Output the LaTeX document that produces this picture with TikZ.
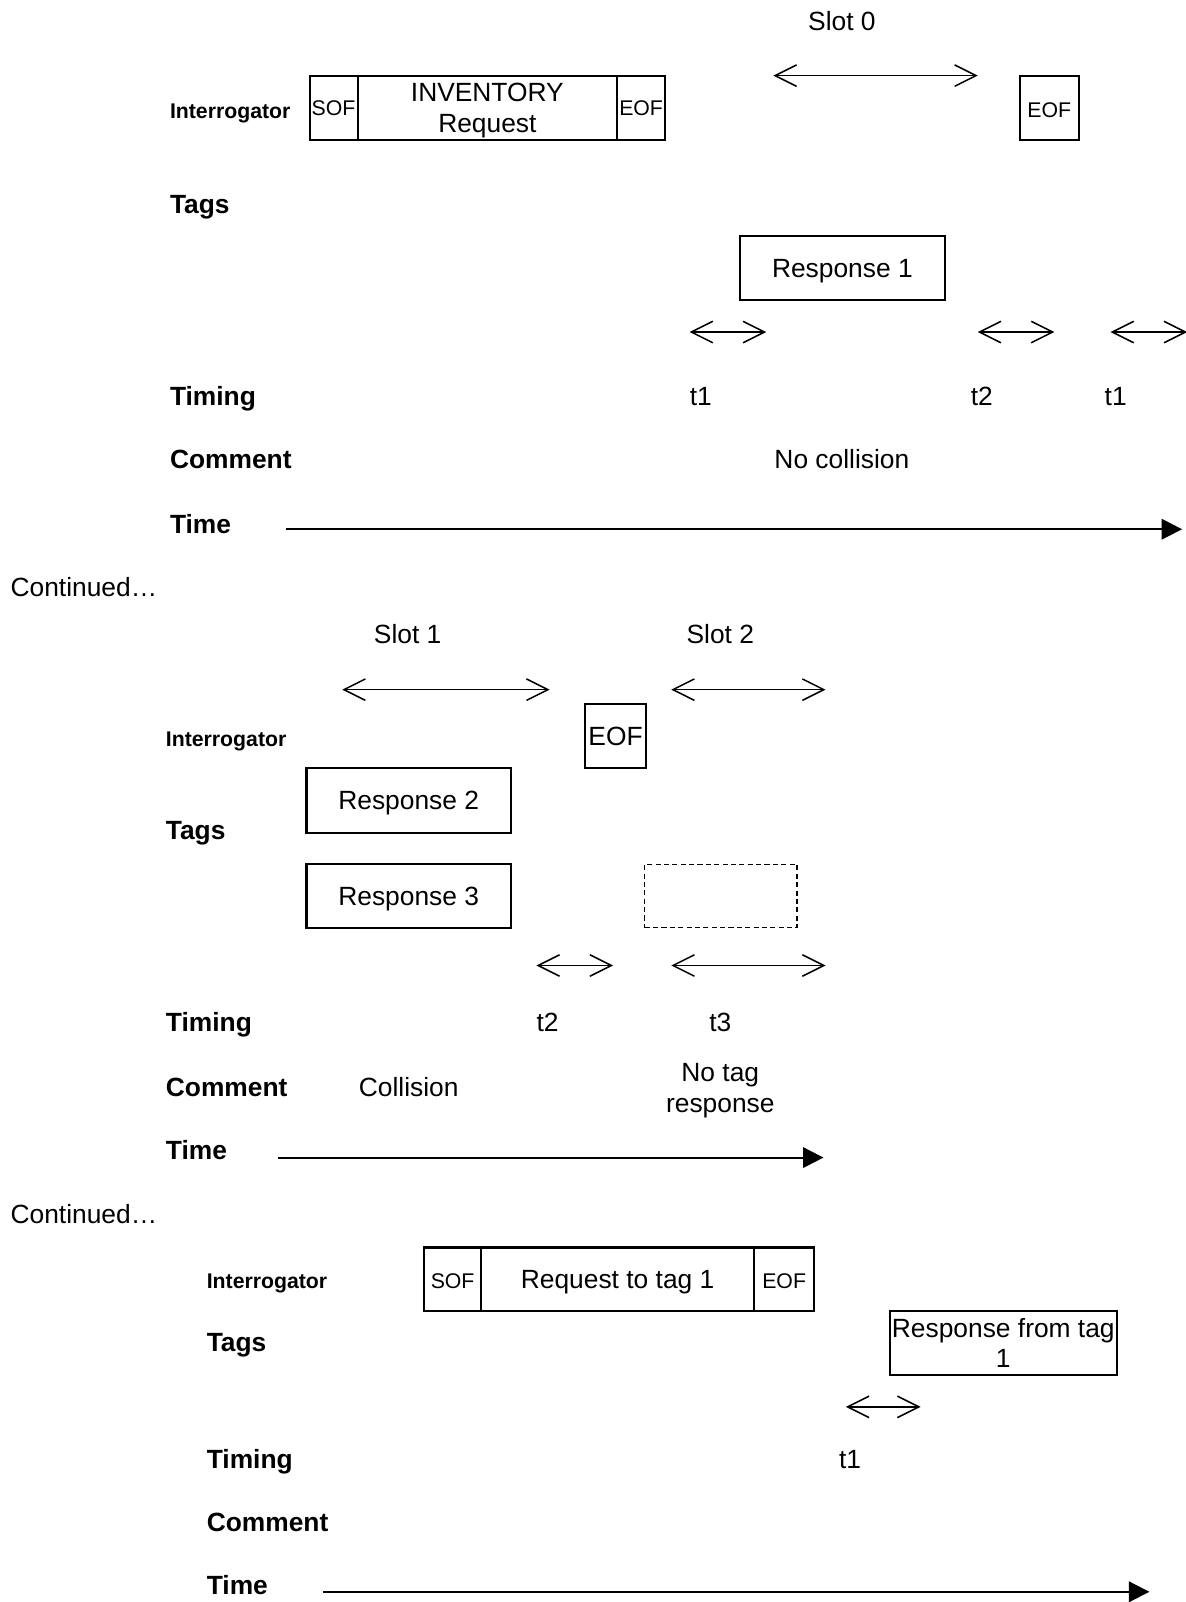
\documentclass[tikz,border=0pt]{standalone}
\usepackage{fontspec}
\setmainfont{Liberation Sans}
\usetikzlibrary{arrows.meta}
\begin{document}
\begin{tikzpicture}[x=0.5pt,y=-0.5pt,
  rowlabel/.style={font=\bfseries\fontsize{12.9}{15}\selectfont, anchor=base west, inner sep=0pt},
  rowlabelsmall/.style={font=\bfseries\fontsize{10.4}{12}\selectfont, anchor=base west, inner sep=0pt},
  note/.style={font=\fontsize{12.9}{15.2}\selectfont, anchor=base, inner sep=0pt},
  notebox/.style={font=\fontsize{12.9}{15.5}\selectfont, align=center, inner sep=0pt},
  % boxed fields: capitals centred vertically in the box
  cell/.style={draw, line width=1pt, inner sep=0pt, font=\fontsize{12.9}{15}\selectfont,
    text height=9.24pt, text depth=0pt},
  multicell/.style={draw, line width=1pt, inner sep=0pt, align=center, font=\fontsize{12.9}{15}\selectfont},
  smallcell/.style={cell, font=\fontsize{10.4}{12}\selectfont, text height=7.45pt},
  emptycell/.style={draw, line width=0.75pt, dash pattern=on 2.5pt off 1.6pt, inner sep=0pt},
  span/.style={line width=0.75pt, {Straight Barb[length=10.5pt,width=10.5pt]}-{Straight Barb[length=10.5pt,width=10.5pt]}},
  timeline/.style={line width=1pt, -{Triangle[length=10pt,width=10pt]}},
]
\fill[white] (0,0) rectangle (1160,1568);
\useasboundingbox (0,0) rectangle (1160,1568);

% ---------------- Slot 0 ----------------
\node[note] (slot0) at (824,30) {Slot 0};
\coordinate (s0a) at (757,74); \coordinate (s0b) at (957,74);
\draw[span] (s0a) -- (s0b);

\node[rowlabelsmall] (intA) at (166,115.5) {Interrogator};
\node[smallcell, minimum width=23.5pt, minimum height=31.5pt] (sofA) at (326.5,105.5) {SOF};
\node[multicell, minimum width=127pt, minimum height=31.5pt] (invA) at (477,105.5) {INVENTORY\\Re\smash{q}uest};
\node[smallcell, minimum width=23.5pt, minimum height=31.5pt] (eofA) at (627.5,105.5) {EOF};
\node[smallcell, text height=9.45pt, minimum width=29pt, minimum height=31.5pt] (eofB) at (1027,105.5) {EOF};

\node[rowlabel] (tagsA) at (166,209) {Tags};
\node[cell, minimum width=100.5pt, minimum height=31.5pt] (resp1) at (824.5,262.5) {Response 1};

\coordinate (t1a) at (675,325); \coordinate (t1b) at (750,325);
\coordinate (t2a) at (957,325); \coordinate (t2b) at (1032,325);
\coordinate (t3a) at (1087,325); \coordinate (t3b) at (1162,325);
\draw[span] (t1a) -- (t1b);
\draw[span] (t2a) -- (t2b);
\draw[span] (t3a) -- (t3b);

\node[rowlabel] (timingA) at (166,397) {Timing};
\node[note] (tA1) at (686,397) {t1};
\node[note] (tA2) at (961,397) {t2};
\node[note] (tA3) at (1092,397) {t1};

\node[rowlabel] (commentA) at (166,459) {Comment};
\node[note] (nocoll) at (824,459) {No collision};

\node[rowlabel] (timeA) at (166,522) {Time};
\coordinate (timeAs) at (280,518); \coordinate (timeAe) at (1157,518);
\draw[timeline] (timeAs) -- (timeAe);

\node[font=\fontsize{12.9}{15}\selectfont, anchor=base west, inner sep=0pt] (contA) at (10,584) {Continued…};

% ---------------- Slots 1 and 2 ----------------
\node[note] (slot1) at (399,630) {Slot 1};
\node[note] (slot2) at (705,630) {Slot 2};
\coordinate (s1a) at (335,675); \coordinate (s1b) at (538,675);
\coordinate (s2a) at (657,675); \coordinate (s2b) at (808,675);
\draw[span] (s1a) -- (s1b);
\draw[span] (s2a) -- (s2b);

\node[rowlabelsmall] (intB) at (162,730.5) {Interrogator};
\node[cell, minimum width=29.5pt, minimum height=31.5pt] (eofC) at (602.5,720.5) {EOF};

\node[cell, minimum width=100pt, minimum height=31.5pt] (resp2) at (400,783.5) {Response 2};
\node[rowlabel] (tagsB) at (162,822) {Tags};
\node[cell, minimum width=100pt, minimum height=31pt] (resp3) at (400,877) {Response 3};
\node[emptycell, minimum width=74.5pt, minimum height=31pt] (noresp) at (705.5,877) {};

\coordinate (u1a) at (525,945); \coordinate (u1b) at (600,945);
\coordinate (u2a) at (657,945); \coordinate (u2b) at (808,945);
\draw[span] (u1a) -- (u1b);
\draw[span] (u2a) -- (u2b);

\node[rowlabel] (timingB) at (162,1010) {Timing};
\node[note] (tB2) at (536,1010) {t2};
\node[note] (tB3) at (705,1010) {t3};

\node[rowlabel] (commentB) at (162,1073) {Comment};
\node[note] (coll) at (400,1073) {Collision};
\node[notebox] (notag) at (705,1067.5) {No tag\\response};

\node[rowlabel] (timeB) at (162,1135) {Time};
\coordinate (timeBs) at (272,1133); \coordinate (timeBe) at (806,1133);
\draw[timeline] (timeBs) -- (timeBe);

\node[font=\fontsize{12.9}{15}\selectfont, anchor=base west, inner sep=0pt] (contB) at (10,1198) {Continued…};

% ---------------- Request to tag 1 ----------------
\node[rowlabelsmall] (intC) at (202,1261.5) {Interrogator};
\node[smallcell, text height=9.45pt, minimum width=28pt, minimum height=31pt] (sofD) at (443,1252) {SOF};
\node[cell, minimum width=133.5pt, minimum height=31pt] (reqD) at (604.5,1252) {Request to tag 1};
\node[smallcell, text height=9.45pt, minimum width=29.5pt, minimum height=31pt] (eofD) at (767.5,1252) {EOF};

\node[rowlabel] (tagsC) at (202,1323) {Tags};
\node[multicell, minimum width=111pt, minimum height=31.5pt] (respD) at (982,1314.5) {Response from tag\\1};

\coordinate (v1a) at (828,1377); \coordinate (v1b) at (901,1377);
\draw[span] (v1a) -- (v1b);

\node[rowlabel] (timingC) at (202,1437) {Timing};
\node[note] (tC1) at (832,1437) {t1};

\node[rowlabel] (commentC) at (202,1499) {Comment};

\node[rowlabel] (timeC) at (202,1561) {Time};
\coordinate (timeCs) at (316,1558); \coordinate (timeCe) at (1125,1558);
\draw[timeline] (timeCs) -- (timeCe);
\end{tikzpicture}
\end{document}
